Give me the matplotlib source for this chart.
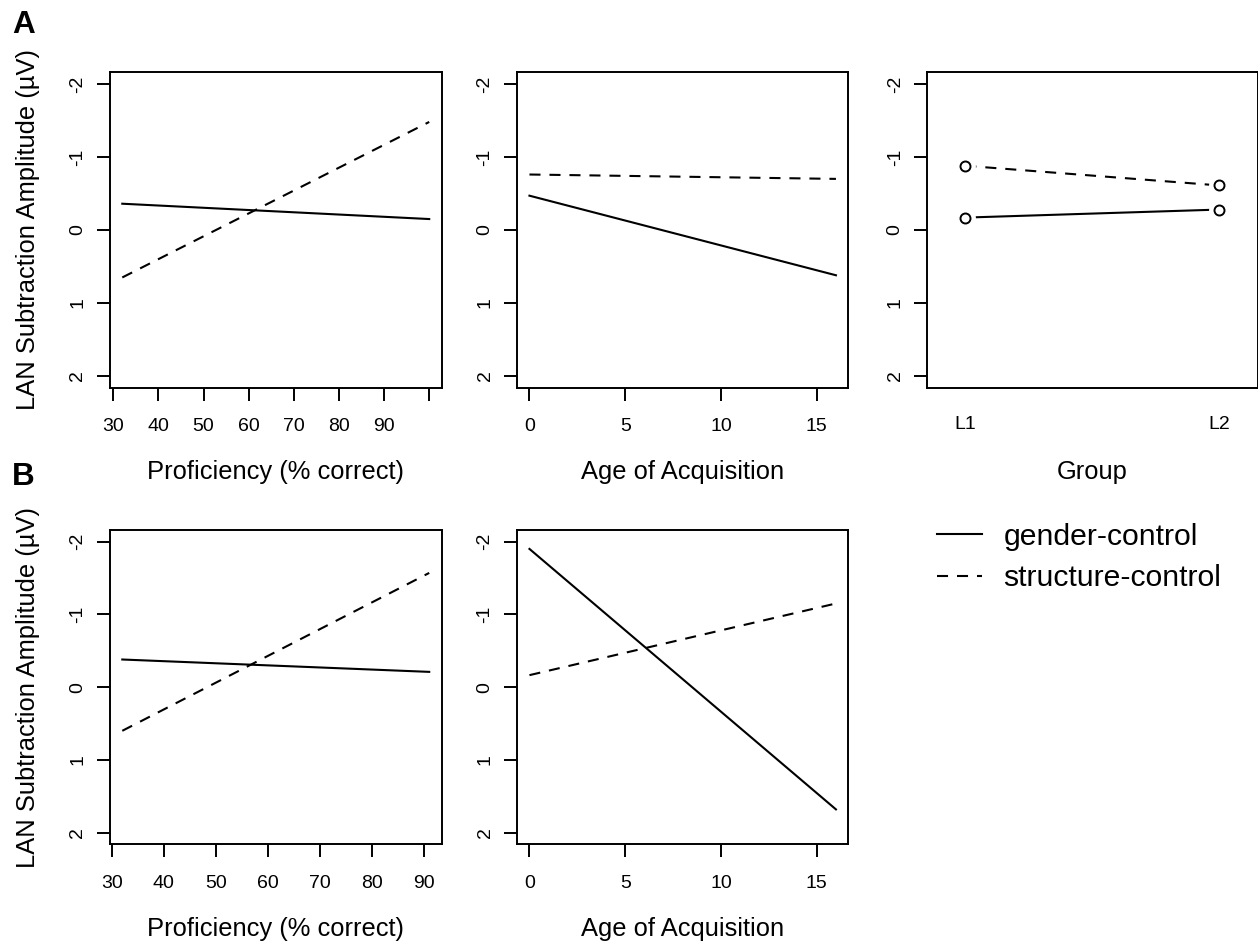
import matplotlib
matplotlib.use("Agg")
import matplotlib.pyplot as plt
from matplotlib.lines import Line2D

plt.rcParams['font.family'] = ['Liberation Sans', 'DejaVu Sans']

# ---------------- data ----------------
prof_x_A = [32, 100]
prof_gender_A = [-0.36, -0.15]
prof_struct_A = [0.65, -1.48]

aoa_x = [0, 16]
aoa_gender_A = [-0.47, 0.62]
aoa_struct_A = [-0.76, -0.70]

groups = ['L1', 'L2']
group_gender = [-0.17, -0.28]
group_struct = [-0.88, -0.61]

prof_x_B = [32, 91]
prof_gender_B = [-0.38, -0.21]
prof_struct_B = [0.60, -1.57]

aoa_gender_B = [-1.90, 1.68]
aoa_struct_B = [-0.165, -1.15]

y_ticks = [-2, -1, 0, 1, 2]
prof_ticks_A = [30, 40, 50, 60, 70, 80, 90, 100]
prof_labels_A = ['30', '40', '50', '60', '70', '80', '90', '']
prof_ticks_B = [30, 40, 50, 60, 70, 80, 90]
aoa_ticks = [0, 5, 10, 15]
legend_labels = ['gender-control', 'structure-control']

# ---------------- layout ----------------
W, H = 1258, 941
fig = plt.figure(figsize=(W / 100, H / 100), dpi=100)

cols = [(110, 441.5), (517.2, 848.2), (927.3, 1257.5)]
rows = [(72.3, 387.7), (530, 844.3)]

LW = 1.5
DASH = (0, (5.3, 4.3))
TICK_FS = 14
LAB_FS = 18.4
XLAB_PAD = 17.8
YLAB_PAD = 21.4


def mkax(c, r):
    l, rr = cols[c]
    t, b = rows[r]
    ax = fig.add_axes([l / W, 1 - b / H, (rr - l) / W, (b - t) / H])
    for s in ax.spines.values():
        s.set_linewidth(1.4)
    ax.set_ylim(2.16, -2.16)
    ax.set_yticks(y_ticks)
    ax.set_yticklabels([str(v) for v in y_ticks], rotation=90, va='center')
    ax.tick_params(axis='y', length=9.5, width=1.4, pad=7.5, labelsize=TICK_FS)
    ax.tick_params(axis='x', length=9.5, width=1.4, pad=12.5, labelsize=TICK_FS)
    return ax


def rlim(v):
    lo, hi = min(v), max(v)
    r = hi - lo
    return lo - 0.04 * r, hi + 0.04 * r


# Row A, panel 1
ax = mkax(0, 0)
ax.plot(prof_x_A, prof_gender_A, color='black', lw=LW)
ax.plot(prof_x_A, prof_struct_A, color='black', lw=LW, linestyle=DASH)
ax.set_xlim(*rlim(prof_x_A))
ax.set_xticks(prof_ticks_A)
ax.set_xticklabels(prof_labels_A)
ax.set_xlabel('Proficiency (% correct)', fontsize=LAB_FS, labelpad=XLAB_PAD)
ax.set_ylabel('LAN Subtraction Amplitude (\u00b5V)', fontsize=LAB_FS, labelpad=YLAB_PAD)

# Row A, panel 2
ax = mkax(1, 0)
ax.plot(aoa_x, aoa_gender_A, color='black', lw=LW)
ax.plot(aoa_x, aoa_struct_A, color='black', lw=LW, linestyle=DASH)
ax.set_xlim(*rlim(aoa_x))
ax.set_xticks(aoa_ticks)
ax.set_xlabel('Age of Acquisition', fontsize=LAB_FS, labelpad=XLAB_PAD)

# Row A, panel 3
ax = mkax(2, 0)
gx = [1, 2]
ax.plot(gx, group_gender, color='black', lw=LW, zorder=2)
ax.plot(gx, group_struct, color='black', lw=LW, linestyle=DASH, zorder=2)
for yy in (group_gender, group_struct):
    ax.plot(gx, yy, linestyle='none', marker='o', markersize=14, mfc='white',
            mec='white', zorder=3)
    ax.plot(gx, yy, linestyle='none', marker='o', markersize=7.2, mfc='white',
            mec='black', mew=1.4, zorder=4)
ax.set_xlim(0.85, 2.15)
ax.set_xticks(gx)
ax.set_xticklabels(groups)
ax.tick_params(axis='x', length=0, pad=20.5)
ax.set_xlabel('Group', fontsize=LAB_FS, labelpad=19.3)

# Row B, panel 1
ax = mkax(0, 1)
ax.plot(prof_x_B, prof_gender_B, color='black', lw=LW)
ax.plot(prof_x_B, prof_struct_B, color='black', lw=LW, linestyle=DASH)
ax.set_xlim(*rlim(prof_x_B))
ax.set_xticks(prof_ticks_B)
ax.set_xlabel('Proficiency (% correct)', fontsize=LAB_FS, labelpad=XLAB_PAD)
ax.set_ylabel('LAN Subtraction Amplitude (\u00b5V)', fontsize=LAB_FS, labelpad=YLAB_PAD)

# Row B, panel 2
ax = mkax(1, 1)
ax.plot(aoa_x, aoa_gender_B, color='black', lw=LW)
ax.plot(aoa_x, aoa_struct_B, color='black', lw=LW, linestyle=DASH)
ax.set_xlim(*rlim(aoa_x))
ax.set_xticks(aoa_ticks)
ax.set_xlabel('Age of Acquisition', fontsize=LAB_FS, labelpad=XLAB_PAD)

# Legend
handles = [Line2D([], [], color='black', lw=LW),
           Line2D([], [], color='black', lw=LW, linestyle=DASH)]
fig.legend(handles, legend_labels, loc='center left',
           bbox_to_anchor=(936.7 / W, 1 - 557.5 / H), frameon=False,
           fontsize=21.7, handlelength=1.5, handletextpad=0.72,
           labelspacing=0.46, borderpad=0, borderaxespad=0)

# Panel letters
fig.text(12 / W, 1 - 33.3 / H, 'A', fontsize=22.7, fontweight='bold', va='baseline')
fig.text(12 / W, 1 - 485 / H, 'B', fontsize=22.7, fontweight='bold', va='baseline')

fig.savefig('out.png', dpi=100)
